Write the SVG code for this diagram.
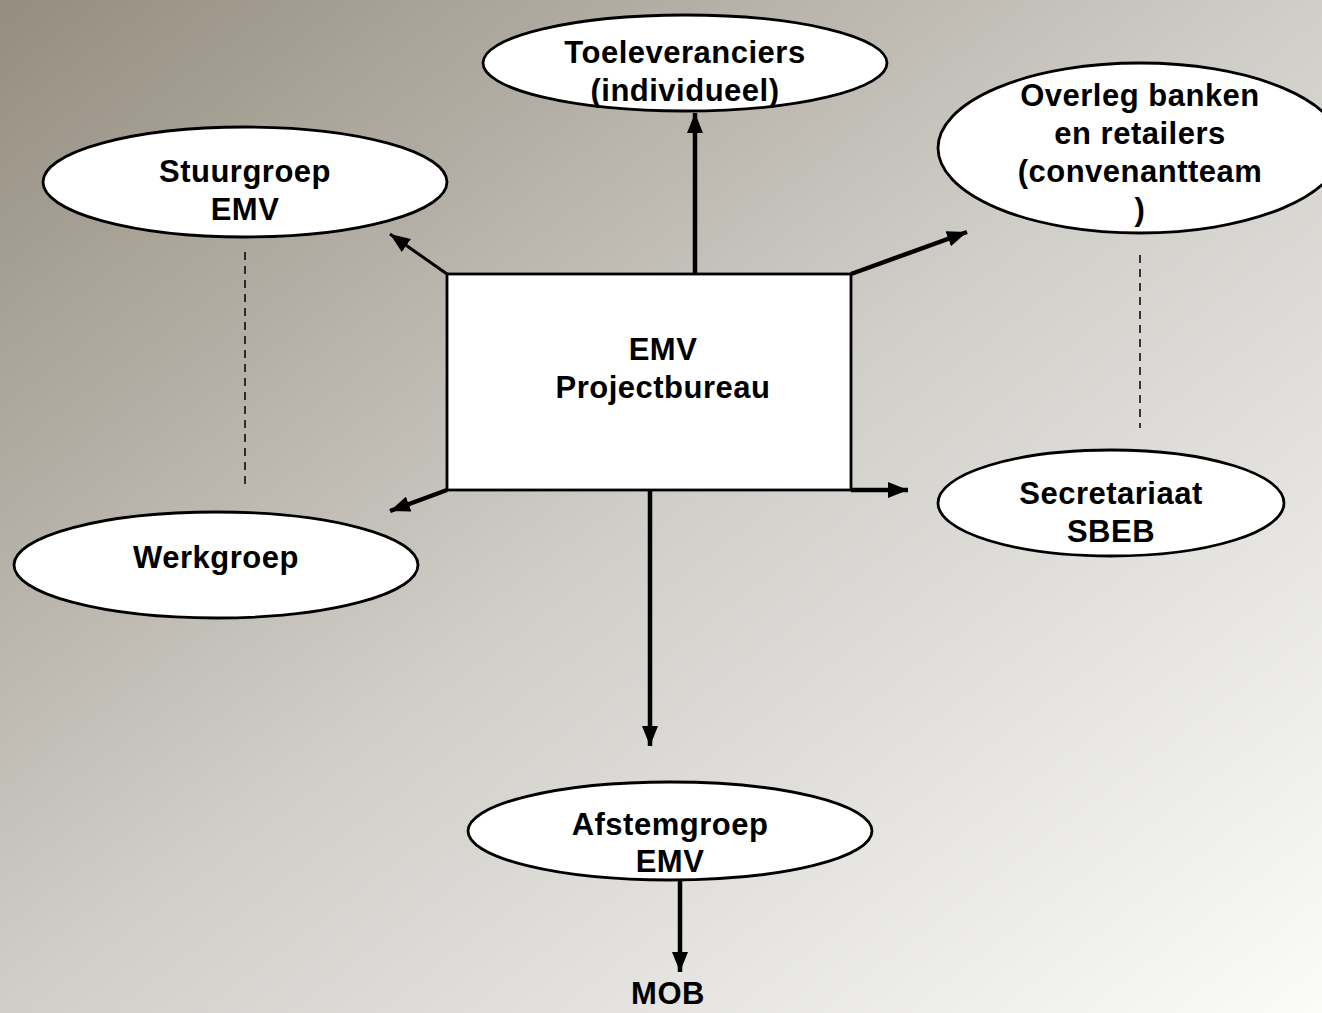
<svg xmlns="http://www.w3.org/2000/svg" width="1322" height="1013" viewBox="0 0 1322 1013">
<defs>
<linearGradient id="bg" x1="0" y1="0" x2="1" y2="1">
<stop offset="0" stop-color="#958d7f"/>
<stop offset="0.5" stop-color="#d0cec9"/>
<stop offset="1" stop-color="#fbfbf9"/>
</linearGradient>
<marker id="ah" viewBox="0 0 20 16" refX="20" refY="8" markerWidth="20" markerHeight="16" markerUnits="userSpaceOnUse" orient="auto">
<path d="M0,0 L20,8 L0,16 Z" fill="#000"/>
</marker>
</defs>
<style>
.node{fill:#fff;stroke:#000;stroke-width:2.8}
.lbl{font-family:"Liberation Sans",Arial,sans-serif;font-weight:bold;font-size:31px;letter-spacing:0.5px;fill:#000;text-anchor:middle}
.arr{stroke:#000;fill:none;marker-end:url(#ah)}
.dash{stroke:#000;stroke-width:1.5;stroke-dasharray:8,6;fill:none}
</style>
<rect x="0" y="0" width="1322" height="1013" fill="url(#bg)"/>
<g id="connectors">
<line class="arr" x1="695" y1="274" x2="695" y2="113" stroke-width="4.5"/>
<line class="arr" x1="447" y1="274" x2="390" y2="234" stroke-width="3"/>
<line class="arr" x1="851" y1="274" x2="967" y2="232" stroke-width="4.5"/>
<line class="arr" x1="447" y1="490" x2="390" y2="511" stroke-width="4.5"/>
<line class="arr" x1="851" y1="490" x2="908" y2="490" stroke-width="4.5"/>
<line class="arr" x1="650" y1="490" x2="650" y2="746" stroke-width="4.5"/>
<line class="arr" x1="680" y1="880" x2="680" y2="972" stroke-width="4.5"/>
<line class="dash" x1="245" y1="252" x2="245" y2="490"/>
<line class="dash" x1="1140" y1="255" x2="1140" y2="428"/>
</g>
<g id="toeleveranciers">
<ellipse class="node" cx="685" cy="63" rx="202" ry="48"/>
<text class="lbl" x="685" y="63">Toeleveranciers</text>
<text class="lbl" x="685" y="101">(individueel)</text>
</g>
<g id="overleg">
<ellipse class="node" cx="1140" cy="148" rx="202" ry="85"/>
<text class="lbl" x="1140" y="106">Overleg banken</text>
<text class="lbl" x="1140" y="144">en retailers</text>
<text class="lbl" x="1140" y="182">(convenantteam</text>
<text class="lbl" x="1140" y="220">)</text>
</g>
<g id="stuurgroep">
<ellipse class="node" cx="245" cy="182" rx="202" ry="55"/>
<text class="lbl" x="245" y="182">Stuurgroep</text>
<text class="lbl" x="245" y="220">EMV</text>
</g>
<g id="projectbureau">
<rect class="node" x="447" y="274" width="404" height="216"/>
<text class="lbl" x="663" y="360">EMV</text>
<text class="lbl" x="663" y="398">Projectbureau</text>
</g>
<g id="werkgroep">
<ellipse class="node" cx="216" cy="565" rx="202" ry="53"/>
<text class="lbl" x="216" y="568">Werkgroep</text>
</g>
<g id="secretariaat">
<ellipse class="node" cx="1111" cy="503" rx="173" ry="53"/>
<text class="lbl" x="1111" y="504">Secretariaat</text>
<text class="lbl" x="1111" y="542">SBEB</text>
</g>
<g id="afstemgroep">
<ellipse class="node" cx="670" cy="831" rx="202" ry="49"/>
<text class="lbl" x="670" y="835">Afstemgroep</text>
<text class="lbl" x="670" y="872">EMV</text>
</g>
<g id="mob">
<text class="lbl" x="668" y="1004">MOB</text>
</g>
</svg>
